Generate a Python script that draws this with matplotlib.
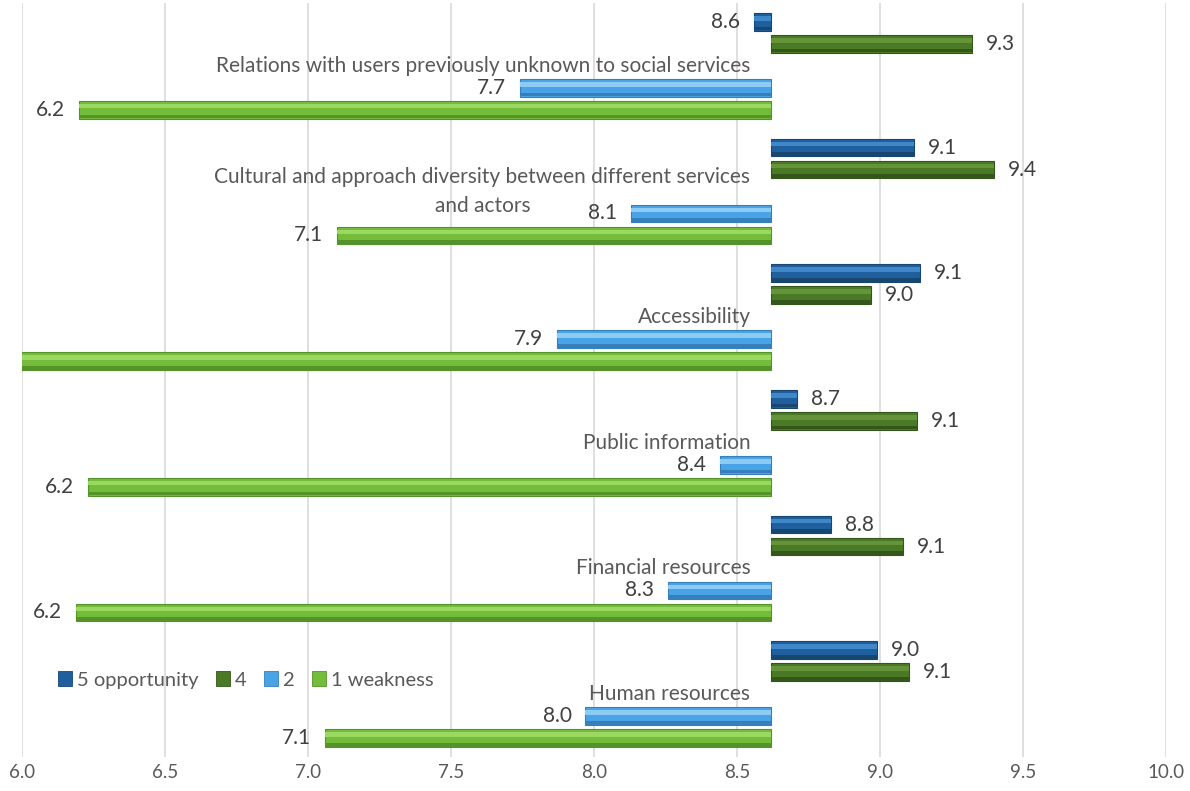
import matplotlib.pyplot as plt
from matplotlib.patches import Patch
import numpy as np

# Datos del grafico
categorias = ['Relations with users previously unknown to social services',
              'Cultural and approach diversity between different services\nand actors',
              'Accessibility',
              'Public information',
              'Financial resources',
              'Human resources']
serie_5 = [8.56, 9.12, 9.14, 8.71, 8.83, 8.99]
serie_4 = [9.32, 9.40, 8.97, 9.13, 9.08, 9.10]
serie_2 = [7.74, 8.13, 7.87, 8.44, 8.26, 7.97]
serie_1 = [6.20, 7.10, 5.90, 6.23, 6.19, 7.06]
nombres_series = ['5 opportunity', '4', '2', '1 weakness']
origen = 8.62  # donde cruza el eje vertical
ticks_x = [6.0, 6.5, 7.0, 7.5, 8.0, 8.5, 9.0, 9.5, 10.0]

plt.rcParams['font.family'] = ['Lato', 'DejaVu Sans']

# colores: base, brillo, sombra
estilos = [('#1f5f9e', '#3f87c9', '#17466f'),
           ('#4a7a25', '#64933a', '#34561a'),
           ('#4aa3e6', '#8ccbf4', '#3580bb'),
           ('#74bd3a', '#9bd862', '#56922a')]
offsets = [-0.35, -0.175, 0.175, 0.35]
alto = 0.14

fig = plt.figure(figsize=(11.9, 7.91), dpi=100)
ax = fig.add_axes([22/1190, 34/791, (1166-22)/1190, (757-3)/791])

y = np.arange(len(categorias))
series = [serie_5, serie_4, serie_2, serie_1]

for valores, off, (base, brillo, sombra) in zip(series, offsets, estilos):
    valores = np.array(valores)
    ancho = valores - origen
    ax.barh(y + off, ancho, height=alto, left=origen, color=base,
            edgecolor=sombra, linewidth=0.8, zorder=3)
    # brillo superior y sombra inferior para imitar el bisel
    ax.barh(y + off - alto * 0.2, ancho, height=alto * 0.25, left=origen,
            color=brillo, linewidth=0, zorder=4)
    ax.barh(y + off + alto * 0.38, ancho, height=alto * 0.22, left=origen,
            color=sombra, linewidth=0, zorder=4)
    for yi, v in zip(y + off, valores):
        if v >= origen:
            ax.annotate(f'{v:.1f}', xy=(v, yi), xytext=(10, 0), textcoords='offset points',
                        ha='left', va='center', fontsize=15, color='#404040')
        else:
            ax.annotate(f'{v:.1f}', xy=(v, yi), xytext=(-10, 0), textcoords='offset points',
                        ha='right', va='center', fontsize=15, color='#404040')

# Etiquetas de categoria junto al eje
for yi, cat in zip(y, categorias):
    ax.annotate(cat, xy=(origen, yi), xytext=(-15, 0), textcoords='offset points',
                ha='right', va='center', multialignment='center',
                fontsize=15, color='#595959', linespacing=1.6)

ax.set_xlim(6.0, 10.0)
ax.set_ylim(len(categorias) - 0.5, -0.5)
ax.set_xticks(ticks_x)
ax.set_xticklabels([f'{t:.1f}' for t in ticks_x], fontsize=13.5, color='#595959')
ax.set_yticks([])
ax.tick_params(axis='x', length=0, pad=5)
ax.grid(True, axis='x', color='#d9d9d9', linewidth=1.2, zorder=0)
for s in ax.spines.values():
    s.set_visible(False)

handles = [Patch(facecolor=b, edgecolor=e, linewidth=0.6) for (b, _, e) in estilos]
fig.legend(handles, nombres_series, loc='center left', bbox_to_anchor=(40/1190, 1 - 680/791),
           ncol=4, frameon=False, fontsize=14.5, handlelength=0.7, handleheight=0.7,
           handletextpad=0.25, columnspacing=0.85, labelcolor='#595959')

fig.savefig('out.png', dpi=100)
